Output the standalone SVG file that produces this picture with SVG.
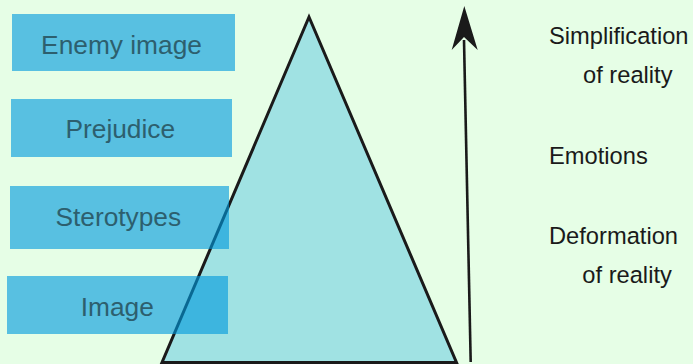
<svg xmlns="http://www.w3.org/2000/svg" width="693" height="364" viewBox="0 0 693 364">
<style>
.box{fill:#0099DD;fill-opacity:0.62}
.lbl{font-family:"Liberation Sans",Arial,sans-serif;font-size:26.3px;fill:#2D5F6E;text-anchor:middle}
.rt{font-family:"Liberation Sans",Arial,sans-serif;font-size:23.7px;fill:#1a1a1a}
</style>
<rect x="0" y="0" width="693" height="364" fill="#E6FEE6"/>
<g id="pyramid">
<polygon points="309,17 162,362.5 456.5,362.5" fill="#A0E2E3" stroke="#1a1a1a" stroke-width="3" stroke-linejoin="miter"/>
</g>
<g id="enemy-image">
<rect class="box" x="12" y="14" width="223" height="57"/>
<text class="lbl" x="121.5" y="54.3">Enemy image</text>
</g>
<g id="prejudice">
<rect class="box" x="11" y="99" width="221" height="58"/>
<text class="lbl" x="120.3" y="138.3">Prejudice</text>
</g>
<g id="sterotypes">
<rect class="box" x="10" y="186" width="219" height="63"/>
<text class="lbl" x="118.3" y="225.7">Sterotypes</text>
</g>
<g id="image">
<rect class="box" x="7" y="276" width="221" height="58"/>
<text class="lbl" x="117.3" y="315.7">Image</text>
</g>
<g id="connectors">
<line x1="470.7" y1="362" x2="464" y2="40" stroke="#1a1a1a" stroke-width="2.6"/>
<polygon points="464.3,6 477.7,50 464,37 451.7,50" fill="#1a1a1a"/>
</g>
<g id="labels">
<text class="rt" x="549" y="43.7">Simplification</text>
<text class="rt" x="583" y="83.3">of reality</text>
<text class="rt" x="549" y="163.7">Emotions</text>
<text class="rt" x="549" y="244">Deformation</text>
<text class="rt" x="582.3" y="282.7">of reality</text>
</g>
</svg>
